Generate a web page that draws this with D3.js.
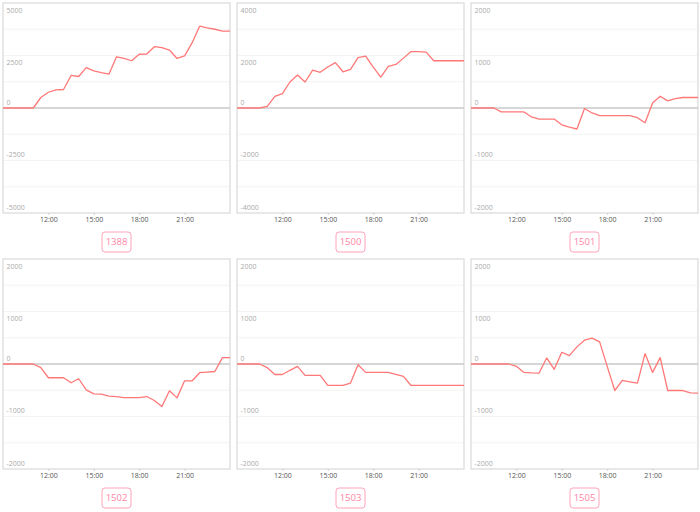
<!DOCTYPE html>
<html><head><meta charset="utf-8">
<script src="https://cdn.jsdelivr.net/npm/d3@7"></script>
<style>html,body{margin:0;padding:0;background:#fff;}svg{display:block;}</style>
</head><body>
<svg id="chart" width="700" height="512"></svg>
<script>
// x positions (hours of the day, half-hour steps)
const hours = [9,9.5,10,10.5,11,11.5,12,12.5,13,13.5,14,14.5,15,15.5,16,16.5,17,17.5,18,18.5,19,19.5,20,20.5,21,21.5,22,22.5,23,23.5,24];
const xTickValues = [12, 15, 18, 21];
const xTickLabels = ["12:00", "15:00", "18:00", "21:00"];

const codes = ["1388", "1500", "1501", "1502", "1503", "1505"];
const yMaxes = [5000, 4000, 2000, 2000, 2000, 2000];

const s1388 = [0,0,0,0,0,500,750,860,880,1550,1500,1920,1770,1680,1610,2440,2360,2250,2560,2570,2920,2875,2760,2360,2480,3110,3900,3820,3750,3660,3660];
const s1500 = [0,0,0,0,60,440,550,990,1260,990,1440,1360,1560,1730,1380,1470,1920,1980,1560,1180,1590,1660,1900,2150,2150,2130,1800,1800,1800,1800,1800];
const s1501 = [0,0,0,0,-75,-75,-75,-75,-170,-210,-210,-210,-320,-365,-400,-10,-95,-145,-145,-145,-145,-145,-185,-280,95,225,135,180,200,200,200];
const s1502 = [0,0,0,0,0,-70,-262,-262,-262,-358,-281,-492,-569,-575,-613,-620,-639,-639,-639,-620,-696,-811,-511,-645,-320,-320,-166,-155,-143,121,121];
const s1503 = [0,0,0,0,-70,-200,-200,-120,-45,-217,-217,-217,-409,-409,-409,-364,-13,-160,-160,-160,-160,-198,-236,-409,-409,-409,-409,-409,-409,-409,-409];
const s1505 = [0,0,0,0,0,0,-45,-160,-170,-172,115,-102,224,160,326,454,492,422,-45,-505,-313,-340,-364,198,-160,121,-505,-505,-505,-550,-556];

const seriesList = [s1388, s1500, s1501, s1502, s1503, s1505];

const svg = d3.select("#chart");
const W = 227, H = 210;
const lefts = [3, 237, 471];
const tops = [3, 259];
const font = "'Open Sans', 'Noto Sans', sans-serif";

seriesList.forEach((vals, k) => {
  const col = k % 3, row = Math.floor(k / 3);
  const x0 = lefts[col], y0 = tops[row];
  const g = svg.append("g").attr("transform", `translate(${x0},${y0})`);
  const ymax = yMaxes[k];
  const x = d3.scaleLinear().domain([9, 24]).range([0, W]);
  const y = d3.scaleLinear().domain([-ymax, ymax]).range([H, 0]);

  // grid lines
  const gridVals = d3.range(-4, 5).map(i => i * ymax / 4);
  g.selectAll("line.grid").data(gridVals.filter(v => v !== 0 && Math.abs(v) !== ymax))
    .join("line").attr("class", "grid")
    .attr("x1", 0).attr("x2", W).attr("y1", d => y(d)).attr("y2", d => y(d))
    .attr("stroke", "#f3f3f3").attr("stroke-width", 1);

  // border
  g.append("rect").attr("x", 0).attr("y", 0).attr("width", W).attr("height", H)
    .attr("fill", "none").attr("stroke", "#dcdcdc").attr("stroke-width", 1.3);

  // zero line
  g.append("line").attr("x1", 0).attr("x2", W).attr("y1", y(0)).attr("y2", y(0))
    .attr("stroke", "#c8c8c8").attr("stroke-width", 1.5);

  // y labels
  const labVals = [ymax, ymax / 2, 0, -ymax / 2, -ymax];
  g.selectAll("text.ylab").data(labVals).join("text").attr("class", "ylab")
    .attr("x", 3.5)
    .attr("y", d => y(d) + (d > 0 ? 9.5 : -3.5))
    .attr("font-family", font).attr("font-size", 7).attr("fill", "#aaaaaa")
    .text(d => String(d));

  // x axis ticks & labels
  const xa = g.append("g").attr("transform", `translate(0,${H})`)
    .call(d3.axisBottom(x).tickValues(xTickValues).tickFormat((d, i) => xTickLabels[i]).tickSize(2).tickPadding(2));
  xa.select(".domain").remove();
  xa.selectAll(".tick line").attr("stroke", "#d0d0d0");
  xa.selectAll(".tick text").attr("font-family", font).attr("font-size", 7).attr("fill", "#555");

  // data line
  const line = d3.line().x((d, i) => x(hours[i])).y(d => y(d));
  g.append("path").datum(vals).attr("d", line)
    .attr("fill", "none").attr("stroke", "#ff7878").attr("stroke-width", 1.3)
    .attr("stroke-linejoin", "round");

  // code label box
  const bw = 29, bh = 20;
  const bg = g.append("g").attr("transform", `translate(${W / 2 - bw / 2},${H + 19})`);
  bg.append("rect").attr("width", bw).attr("height", bh).attr("rx", 3).attr("ry", 3)
    .attr("fill", "#fff").attr("stroke", "#ffa3bb").attr("stroke-width", 1);
  bg.append("text").attr("x", bw / 2).attr("y", bh / 2 + 3.3).attr("text-anchor", "middle")
    .attr("font-family", font).attr("font-size", 9.5).attr("fill", "#ff85a5")
    .text(codes[k]);
});
</script>
</body></html>
